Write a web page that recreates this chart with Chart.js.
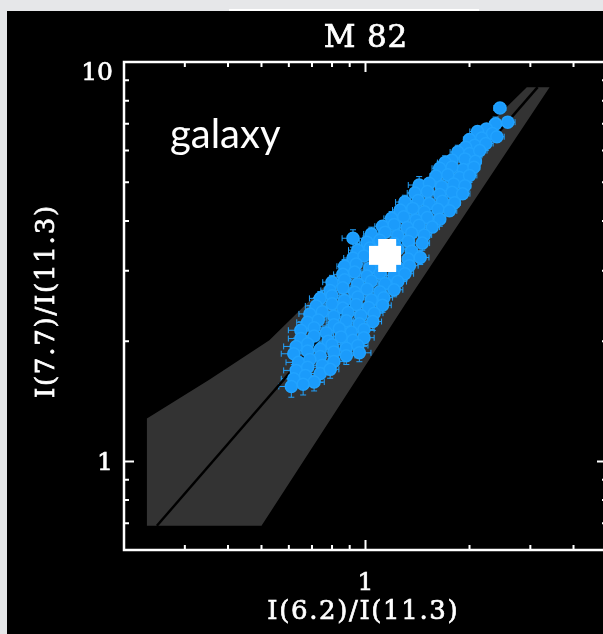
<!DOCTYPE html>
<html>
<head>
<meta charset="utf-8">
<script src="https://cdn.jsdelivr.net/npm/chart.js"></script>
<style>
  html, body { margin: 0; padding: 0; overflow: hidden; background: #e6e7e9; width: 603px; height: 634px; }
  #strip { position: absolute; left: 229px; top: 9px; width: 250px; height: 2px; background: #fff; }
  #panel { position: absolute; left: 7px; top: 11px; width: 620px; height: 623px; background: #000; }
</style>
</head>
<body>
<div id="strip"></div>
<div id="panel"><canvas id="c" width="620" height="623"></canvas></div>
<script>
// I(6.2)/I(11.3) for each pixel of M 82, read row by row (top right -> bottom left)
const ratio62 = [
  2.45,
  2.58, 2.38,
  2.24, 2.11, 2.33,
  2.17, 2.00, 2.40,
  2.07, 2.23, 1.95,
  1.85, 2.00, 2.14,
  1.78, 1.94, 2.08, 1.70,
  1.64, 1.78, 1.92, 2.06,
  1.60, 1.73, 1.87, 2.00,
  1.43, 1.53, 1.66, 1.80, 1.94,
  1.39, 1.51, 1.64, 1.78, 1.91,
  1.30, 1.42, 1.53, 1.67, 1.81,
  1.26, 1.37, 1.48, 1.62, 1.75,
  1.19, 1.29, 1.40, 1.51, 1.64,
  1.12, 1.21, 1.32, 1.43, 1.56,
  1.04, 1.14, 1.24, 1.36, 1.48, 0.92,
  1.01, 1.10, 1.21, 1.33, 1.46,
  0.95, 1.03, 1.13, 1.24, 1.36,
  0.92, 0.99, 1.08, 1.19, 1.33, 1.44,
  0.87, 0.94, 1.03, 1.13, 1.24, 1.34,
  0.86, 0.93, 1.01, 1.10, 1.21, 1.30,
  0.80, 0.87, 0.95, 1.04, 1.14, 1.24,
  0.79, 0.86, 0.93, 1.01, 1.10, 1.21,
  0.74, 0.80, 0.87, 0.95, 1.04, 1.13,
  0.72, 0.80, 0.86, 0.94, 1.02, 1.12,
  0.69, 0.75, 0.81, 0.89, 0.97, 1.06,
  0.68, 0.73, 0.81, 0.88, 0.96, 1.05,
  0.65, 0.71, 0.77, 0.84, 0.91, 0.99,
  0.65, 0.71, 0.78, 0.85, 0.92, 0.99,
  0.63, 0.68, 0.74, 0.80, 0.88, 0.95,
  0.62, 0.68, 0.74, 0.81, 0.88, 0.96,
  0.64, 0.69, 0.75, 0.81,
  0.63, 0.68, 0.74, 0.79,
  0.62, 0.67, 0.71,
  0.61, 0.66
];
// I(7.7)/I(11.3)
const ratio77 = [
  7.67,
  7.07, 7.00,
  6.80, 6.70, 6.62,
  6.45, 6.40, 6.50,
  6.19, 6.25, 6.12,
  5.95, 5.90, 6.00,
  5.68, 5.72, 5.64, 5.60,
  5.42, 5.46, 5.38, 5.45,
  5.18, 5.22, 5.14, 5.20,
  4.92, 4.97, 4.88, 4.95, 4.90,
  4.70, 4.74, 4.66, 4.72, 4.68,
  4.46, 4.50, 4.42, 4.48, 4.44,
  4.26, 4.30, 4.22, 4.28, 4.24,
  4.06, 4.10, 4.02, 4.08, 4.04,
  3.88, 3.92, 3.85, 3.90, 3.86,
  3.71, 3.75, 3.68, 3.73, 3.69, 3.62,
  3.54, 3.58, 3.51, 3.56, 3.52,
  3.38, 3.42, 3.35, 3.40, 3.36,
  3.23, 3.27, 3.20, 3.25, 3.21, 3.24,
  3.08, 3.12, 3.05, 3.10, 3.06, 3.09,
  2.94, 2.98, 2.91, 2.96, 2.92, 2.95,
  2.81, 2.85, 2.78, 2.83, 2.79, 2.82,
  2.68, 2.72, 2.65, 2.70, 2.66, 2.69,
  2.56, 2.60, 2.53, 2.58, 2.54, 2.57,
  2.45, 2.48, 2.42, 2.47, 2.43, 2.46,
  2.34, 2.37, 2.31, 2.36, 2.32, 2.35,
  2.23, 2.26, 2.20, 2.25, 2.21, 2.24,
  2.13, 2.16, 2.10, 2.15, 2.11, 2.14,
  2.03, 2.06, 2.00, 2.05, 2.01, 2.04,
  1.94, 1.97, 1.91, 1.96, 1.92, 1.95,
  1.86, 1.89, 1.83, 1.88, 1.84, 1.87,
  1.77, 1.80, 1.74, 1.78,
  1.69, 1.72, 1.66, 1.70,
  1.61, 1.64, 1.58,
  1.54, 1.56
];
// relative errors (fraction of value)
const err62 = [
  0.04,
  0.05, 0.04,
  0.04, 0.05, 0.04,
  0.05, 0.04, 0.05,
  0.04, 0.05, 0.04,
  0.05, 0.04, 0.05,
  0.04, 0.05, 0.04, 0.05,
  0.05, 0.04, 0.05, 0.04,
  0.04, 0.06, 0.04, 0.05,
  0.07, 0.05, 0.04, 0.05, 0.04,
  0.05, 0.04, 0.05, 0.04, 0.05,
  0.06, 0.05, 0.04, 0.05, 0.04,
  0.05, 0.04, 0.05, 0.04, 0.05,
  0.05, 0.05, 0.04, 0.05, 0.04,
  0.05, 0.04, 0.05, 0.04, 0.05,
  0.05, 0.04, 0.05, 0.04, 0.05, 0.07,
  0.05, 0.04, 0.05, 0.04, 0.05,
  0.06, 0.05, 0.04, 0.05, 0.04,
  0.06, 0.05, 0.04, 0.05, 0.04, 0.06,
  0.05, 0.06, 0.04, 0.05, 0.04, 0.06,
  0.06, 0.05, 0.05, 0.04, 0.05, 0.06,
  0.06, 0.05, 0.04, 0.05, 0.04, 0.06,
  0.06, 0.05, 0.05, 0.04, 0.05, 0.06,
  0.07, 0.05, 0.04, 0.05, 0.04, 0.06,
  0.07, 0.06, 0.05, 0.04, 0.05, 0.06,
  0.07, 0.06, 0.05, 0.05, 0.04, 0.06,
  0.07, 0.06, 0.05, 0.05, 0.05, 0.06,
  0.08, 0.06, 0.05, 0.06, 0.05, 0.07,
  0.08, 0.06, 0.06, 0.05, 0.06, 0.07,
  0.08, 0.07, 0.06, 0.06, 0.05, 0.07,
  0.08, 0.07, 0.06, 0.06, 0.06, 0.08,
  0.08, 0.07, 0.06, 0.07,
  0.08, 0.07, 0.07, 0.06,
  0.08, 0.07, 0.07,
  0.08, 0.08
];
const err77 = [
  0.03,
  0.03, 0.04,
  0.03, 0.03, 0.04,
  0.04, 0.03, 0.03,
  0.03, 0.04, 0.03,
  0.04, 0.03, 0.04,
  0.03, 0.04, 0.03, 0.04,
  0.04, 0.03, 0.04, 0.03,
  0.03, 0.04, 0.03, 0.04,
  0.05, 0.03, 0.04, 0.03, 0.04,
  0.04, 0.03, 0.04, 0.03, 0.03,
  0.04, 0.04, 0.03, 0.04, 0.03,
  0.03, 0.04, 0.03, 0.04, 0.03,
  0.04, 0.03, 0.04, 0.03, 0.04,
  0.03, 0.04, 0.03, 0.04, 0.03,
  0.04, 0.03, 0.04, 0.03, 0.04, 0.05,
  0.04, 0.03, 0.04, 0.03, 0.04,
  0.04, 0.04, 0.03, 0.04, 0.03,
  0.04, 0.03, 0.04, 0.03, 0.04, 0.04,
  0.04, 0.04, 0.03, 0.04, 0.03, 0.04,
  0.04, 0.03, 0.04, 0.03, 0.04, 0.04,
  0.04, 0.04, 0.03, 0.04, 0.03, 0.04,
  0.05, 0.04, 0.04, 0.03, 0.04, 0.04,
  0.04, 0.04, 0.03, 0.04, 0.03, 0.04,
  0.05, 0.04, 0.04, 0.03, 0.04, 0.04,
  0.05, 0.04, 0.04, 0.04, 0.03, 0.05,
  0.05, 0.04, 0.04, 0.04, 0.04, 0.05,
  0.05, 0.05, 0.04, 0.04, 0.04, 0.05,
  0.05, 0.04, 0.05, 0.04, 0.04, 0.05,
  0.05, 0.05, 0.04, 0.05, 0.04, 0.05,
  0.06, 0.05, 0.05, 0.04, 0.05, 0.05,
  0.06, 0.05, 0.05, 0.05,
  0.06, 0.05, 0.05, 0.05,
  0.06, 0.06, 0.05,
  0.06, 0.06
];

// nucleus (big white symbol)
const nucX = [1.14];
const nucY = [3.28];

// model relation and its spread
const fitX = [0.249, 3.15];
const fitY = [0.69, 8.65];
const bandX = [0.233, 0.353, 0.527, 2.93, 3.41, 1.297, 0.50, 0.233];
const bandY = [1.28, 1.60, 2.01, 8.65, 8.65, 2.46, 0.69, 0.69];

// axes
const xRange = [0.2, 5];
const yRange = [0.6, 10];
const xMajor = [1];
const xMinor = [0.3, 0.4, 0.5, 0.6, 0.7, 0.8, 0.9, 2, 3, 4];
const yMajor = [1, 10];
const yMinor = [0.7, 0.8, 0.9, 2, 3, 4, 5, 6, 7, 8, 9];

const blue = '#22a3ff';
const serif = "'DejaVu Serif', 'Liberation Serif', serif";

const pts = ratio62.map((x, i) => ({ x, y: ratio77[i], ex: err62[i] || 0, ey: err77[i] || 0 }));

// blocky white marker like the original plot symbol
const nucImg = document.createElement('canvas');
nucImg.width = 32; nucImg.height = 33;
(function () {
  const g = nucImg.getContext('2d');
  g.fillStyle = '#fff';
  g.fillRect(9, 0, 18, 33);
  g.fillRect(0, 7, 32, 19);
})();

// IDL vector font look: wide and a bit heavy
function wideText(ctx, txt, cx, cy, width) {
  ctx.letterSpacing = '0px';
  const w = ctx.measureText(txt).width;
  const sp = width ? Math.max(0, (width - w) / txt.length) : 0;
  ctx.letterSpacing = sp + 'px';
  ctx.lineWidth = 0.7;
  ctx.fillText(txt, cx + sp / 2, cy);
  ctx.strokeText(txt, cx + sp / 2, cy);
  ctx.letterSpacing = '0px';
}

const bandPlugin = {
  id: 'band',
  beforeDatasetsDraw(chart) {
    const { ctx, chartArea: a, scales: { x, y } } = chart;
    ctx.save();
    ctx.beginPath();
    ctx.rect(a.left, a.top, a.right - a.left, a.bottom - a.top);
    ctx.clip();
    ctx.fillStyle = '#333333';
    ctx.beginPath();
    bandX.forEach((v, i) => {
      const px = x.getPixelForValue(v), py = y.getPixelForValue(bandY[i]);
      if (i === 0) ctx.moveTo(px, py); else ctx.lineTo(px, py);
    });
    ctx.closePath();
    ctx.fill();

    // error bars
    ctx.strokeStyle = blue;
    ctx.lineWidth = 1;
    const cap = 3;
    pts.forEach(p => {
      const cx = x.getPixelForValue(p.x), cy = y.getPixelForValue(p.y);
      const x0 = x.getPixelForValue(p.x * (1 - p.ex)), x1 = x.getPixelForValue(p.x * (1 + p.ex));
      const y0 = y.getPixelForValue(p.y * (1 - p.ey)), y1 = y.getPixelForValue(p.y * (1 + p.ey));
      ctx.beginPath();
      ctx.moveTo(x0, cy); ctx.lineTo(x1, cy);
      ctx.moveTo(x0, cy - cap); ctx.lineTo(x0, cy + cap);
      ctx.moveTo(x1, cy - cap); ctx.lineTo(x1, cy + cap);
      ctx.moveTo(cx, y0); ctx.lineTo(cx, y1);
      ctx.moveTo(cx - cap, y0); ctx.lineTo(cx + cap, y0);
      ctx.moveTo(cx - cap, y1); ctx.lineTo(cx + cap, y1);
      ctx.stroke();
    });
    ctx.restore();
  }
};

const axisPlugin = {
  id: 'idlAxes',
  afterDraw(chart) {
    const { ctx, chartArea: a, scales: { x, y } } = chart;
    ctx.save();
    ctx.strokeStyle = '#fff';
    ctx.fillStyle = '#fff';
    ctx.lineWidth = 2.5;
    ctx.strokeRect(a.left, a.top, a.right - a.left, a.bottom - a.top);

    ctx.lineWidth = 2;
    const tick = (vals, len) => {
      vals.forEach(v => {
        const px = x.getPixelForValue(v);
        ctx.beginPath();
        ctx.moveTo(px, a.bottom); ctx.lineTo(px, a.bottom - len);
        ctx.moveTo(px, a.top); ctx.lineTo(px, a.top + len);
        ctx.stroke();
      });
    };
    const ytick = (vals, len) => {
      vals.forEach(v => {
        const py = y.getPixelForValue(v);
        ctx.beginPath();
        ctx.moveTo(a.left, py); ctx.lineTo(a.left + len, py);
        ctx.moveTo(a.right, py); ctx.lineTo(a.right - len, py);
        ctx.stroke();
      });
    };
    tick(xMajor, 10); tick(xMinor, 5);
    ytick(yMajor, 10); ytick(yMinor, 5);

    // title
    ctx.textBaseline = 'middle';
    ctx.textAlign = 'center';
    ctx.font = '31px ' + serif;
    wideText(ctx, 'M 82', (a.left + a.right) / 2, 28, 84);

    // tick labels
    ctx.font = '25px ' + serif;
    xMajor.forEach(v => wideText(ctx, String(v), x.getPixelForValue(v), a.bottom + 33));
    ctx.textAlign = 'right';
    yMajor.forEach(v => {
      const py = Math.max(y.getPixelForValue(v) + 2, a.top + 11);
      wideText(ctx, String(v), a.left - 11, py);
    });

    // axis titles
    ctx.font = '26px ' + serif;
    ctx.textAlign = 'center';
    wideText(ctx, 'I(6.2)/I(11.3)', (a.left + a.right) / 2 - 3, a.bottom + 62, 192);
    ctx.save();
    ctx.translate(40, (a.top + a.bottom) / 2 - 4);
    ctx.rotate(-Math.PI / 2);
    wideText(ctx, 'I(7.7)/I(11.3)', 0, 0, 194);
    ctx.restore();

    // annotation
    ctx.font = "40px Lato, 'Open Sans', sans-serif";
    ctx.textAlign = 'left';
    ctx.textBaseline = 'alphabetic';
    ctx.fillText('galaxy', 163, 137);
    ctx.restore();
  }
};

new Chart(document.getElementById('c'), {
  type: 'scatter',
  data: {
    datasets: [
      {
        label: 'nucleus',
        data: nucX.map((v, i) => ({ x: v, y: nucY[i] })),
        pointStyle: nucImg,
        pointRadius: 16
      },
      {
        label: 'M 82',
        data: pts,
        pointRadius: 6,
        borderWidth: 1.5,
        borderColor: blue,
        backgroundColor: '#1b9bfb'
      },
      {
        label: 'fit',
        data: fitX.map((v, i) => ({ x: v, y: fitY[i] })),
        showLine: true,
        borderColor: '#000',
        borderWidth: 2.5,
        pointRadius: 0
      }
    ]
  },
  options: {
    responsive: false,
    animation: false,
    events: [],
    layout: { padding: { left: 117, right: 20, top: 51, bottom: 84 } },
    plugins: {
      legend: { display: false },
      tooltip: { enabled: false },
      title: { display: false }
    },
    scales: {
      x: { type: 'logarithmic', min: xRange[0], max: xRange[1], display: false },
      y: { type: 'logarithmic', min: yRange[0], max: yRange[1], display: false }
    }
  },
  plugins: [bandPlugin, axisPlugin]
});
</script>
</body>
</html>
